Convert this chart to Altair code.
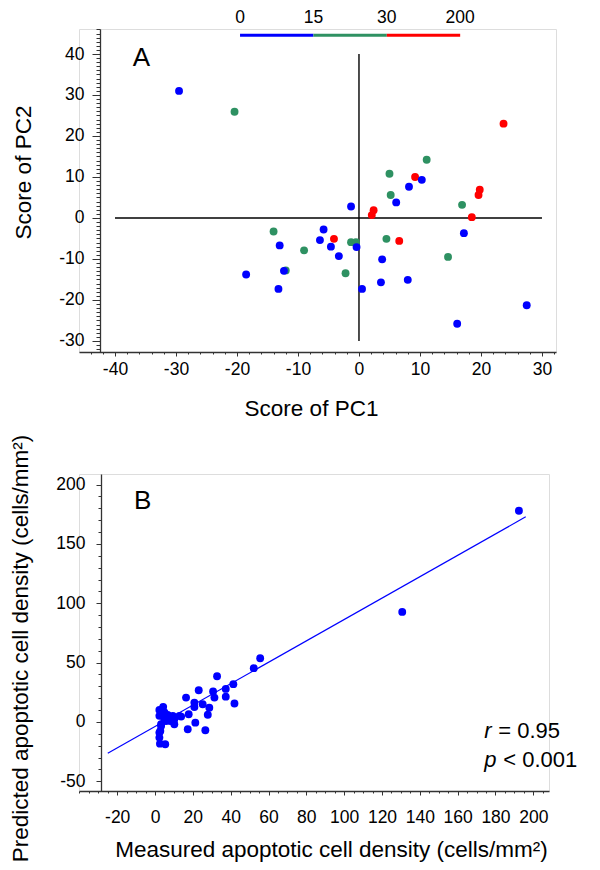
import altair as alt
import pandas as pd

FONT = "Liberation Sans"

# ---------------- Panel A data ----------------
pc1 = [-29.5, -20.4, 23.7, 11.1, 5.0, 9.2, 10.3, 8.2, 19.8, 19.6, 5.2, 6.1, 16.9,
       -1.3, 2.4, 2.1, 18.5, -14.0, -5.8, 17.2, -4.1, -6.4, -1.3, -0.5, 4.5, 6.6,
       -13.0, -4.6, -0.4, -9.0, -3.3, 14.6, 3.8, -12.0, -12.3, -2.2, -18.5, 8.0,
       3.6, -13.2, 0.5, 27.5, 16.1]
pc2 = [31.0, 25.9, 23.0, 14.2, 10.8, 10.0, 9.3, 7.6, 6.9, 5.6, 5.6, 3.8, 3.2,
       2.8, 1.9, 0.7, 0.2, -3.3, -2.8, -3.7, -5.1, -5.4, -5.9, -5.9, -5.1, -5.6,
       -6.7, -7.0, -7.1, -7.9, -9.3, -9.5, -10.1, -12.8, -12.9, -13.5, -13.8, -15.1,
       -15.7, -17.3, -17.3, -21.3, -25.8]
grp = ["0-15", "15-30", "30-200", "15-30", "15-30", "30-200", "0-15", "0-15",
       "30-200", "30-200", "15-30", "0-15", "15-30", "0-15", "30-200", "30-200",
       "30-200", "15-30", "0-15", "0-15", "30-200", "0-15", "15-30", "15-30",
       "15-30", "30-200", "0-15", "0-15", "0-15", "15-30", "0-15", "15-30", "0-15",
       "15-30", "0-15", "15-30", "0-15", "0-15", "0-15", "0-15", "0-15", "0-15",
       "0-15"]
group_names = ["0-15", "15-30", "30-200"]
group_colors = ["#0000FF", "#2E9162", "#FF0000"]
legend_labels = ["0", "15", "30", "200"]

# ---------------- Panel B data ----------------
measured = [192.4, 130.7, 55.6, 52.2, 32.8, 41.4, 23.1, 30.7, 37.4, 16.4, 31.4, 37.4,
            42.0, 20.8, 25.2, 28.7, 20.8, 27.9, 17.8, 13.8, 21.3, 17.3, 26.6, 4.3,
            2.3, 2.3, 6.7, 9.4, 10.2, 5.8, 3.2, 2.3, 2.3, 2.6, 5.4, 8.1, 4.9, 10.2,
            12.9, 3.2, 2.8, 5.0, 7.5]
predicted = [177.9, 92.7, 53.7, 45.3, 38.5, 31.8, 26.7, 25.6, 27.8, 20.5, 20.5, 21.3,
             15.5, 16.3, 14.9, 12.0, 12.6, 6.0, 6.5, 4.5, -0.6, -6.2, -7.0, 12.7,
             10.0, 5.1, 5.9, 5.1, -2.0, 0.8, -2.0, -9.0, -13.2, -18.3, -18.8, 0.8,
             2.3, 2.3, 5.1, -3.4, -7.6, 8.0, 3.0]
fit_x = [-25, 196]
fit_y = [-26.4, 172.8]
r_value = "= 0.95"
p_value = "< 0.001"

# ---------------- layout constants ----------------
AX = "#333333"
LEG_X0, LEG_STEP, LEG_Y, LEG_LABEL_Y = -19.5, 12.03, 44.6, 48.8

color_scale = alt.Scale(domain=group_names, range=group_colors)

df_a = pd.DataFrame({"pc1": pc1, "pc2": pc2, "grp": grp})
df_b = pd.DataFrame({"measured": measured, "predicted": predicted})

lab = "'' + datum.value"

# ======== Panel A ========
xs_a = alt.Scale(domain=[-45.9, 32.3], nice=False, zero=False)
ys_a = alt.Scale(domain=[-32.7, 46.1], nice=False, zero=False)

pts_a = alt.Chart(df_a).mark_circle(size=62, opacity=1).encode(
    x=alt.X("pc1:Q", scale=xs_a, axis=alt.Axis(
        values=list(range(-40, 31, 10)), tickSize=4, labelPadding=4, grid=False,
        domainColor=AX, tickColor=AX, domainWidth=1.3, labelExpr=lab,
        labelFontSize=17.5, titleFontSize=22.5, title="Score of PC1",
        titleX=232, titleY=56, titleBaseline="middle", titleAlign="center",
        titleFontWeight="normal", orient="bottom")),
    y=alt.Y("pc2:Q", scale=ys_a, axis=alt.Axis(
        values=list(range(-30, 41, 10)), offset=-21, tickSize=8, labelPadding=8,
        grid=False, domainColor=AX, tickColor=AX, domainWidth=1.3, labelExpr=lab,
        labelFontSize=17.5, titleFontSize=22.5, title="Score of PC2",
        titleX=-77, titleY=143, titleBaseline="middle", titleAlign="center",
        titleFontWeight="normal", orient="left")),
    color=alt.Color("grp:N", scale=color_scale, legend=None),
)

minor_a = alt.Chart(df_a).mark_circle(opacity=0).encode(
    x=alt.X("pc1:Q", scale=xs_a, axis=alt.Axis(
        values=list(range(-44, 33, 2)), tickSize=2, labels=False, domain=False,
        grid=False, tickColor=AX, title=None, orient="bottom")),
    y=alt.Y("pc2:Q", scale=ys_a, axis=alt.Axis(
        values=list(range(-32, 47, 1)), offset=-21, tickSize=4, labels=False,
        domain=False, grid=False, tickColor=AX, title=None, orient="left")),
)

ref_h = alt.Chart(pd.DataFrame({"x": [-40], "x2": [30], "y": [0]})).mark_rule(
    color="black", strokeWidth=1.4).encode(
    x=alt.X("x:Q", scale=xs_a, axis=None), x2="x2:Q",
    y=alt.Y("y:Q", scale=ys_a, axis=None))
ref_v = alt.Chart(pd.DataFrame({"x": [0], "y": [-30], "y2": [40]})).mark_rule(
    color="black", strokeWidth=1.4).encode(
    x=alt.X("x:Q", scale=xs_a, axis=None),
    y=alt.Y("y:Q", scale=ys_a, axis=None), y2="y2:Q")

df_seg = pd.DataFrame({
    "grp": group_names,
    "x": [LEG_X0 + i * LEG_STEP for i in range(3)],
    "x2": [LEG_X0 + (i + 1) * LEG_STEP for i in range(3)],
    "y": [LEG_Y] * 3,
})
leg_bar = alt.Chart(df_seg).mark_rule(strokeWidth=3).encode(
    x=alt.X("x:Q", scale=xs_a, axis=None), x2="x2:Q",
    y=alt.Y("y:Q", scale=ys_a, axis=None),
    color=alt.Color("grp:N", scale=color_scale, legend=None))
df_leglab = pd.DataFrame({
    "t": legend_labels,
    "x": [LEG_X0 + i * LEG_STEP for i in range(4)],
    "y": [LEG_LABEL_Y] * 4,
})
leg_lab = alt.Chart(df_leglab).mark_text(
    font=FONT, fontSize=17.5, baseline="middle", align="center", color="black").encode(
    x=alt.X("x:Q", scale=xs_a, axis=None), y=alt.Y("y:Q", scale=ys_a, axis=None), text="t:N")

lab_a = alt.Chart(pd.DataFrame({"x": [-37.1], "y": [37.1], "t": ["A"]})).mark_text(
    font=FONT, fontSize=26, baseline="alphabetic", align="left", color="black").encode(
    x=alt.X("x:Q", scale=xs_a, axis=None), y=alt.Y("y:Q", scale=ys_a, axis=None), text="t:N")

panel_a = alt.layer(minor_a, ref_h, ref_v, pts_a, leg_bar, leg_lab, lab_a).resolve_axis(
    x="independent", y="independent").properties(width=477, height=323)

# ======== Panel B ========
xs_b = alt.Scale(domain=[-40.2, 208.3], nice=False, zero=False)
ys_b = alt.Scale(domain=[-58.2, 208.9], nice=False, zero=False)

pts_b = alt.Chart(df_b).mark_circle(size=62, opacity=1, color="#0000FF").encode(
    x=alt.X("measured:Q", scale=xs_b, axis=alt.Axis(
        values=list(range(-20, 201, 20)), tickSize=4, labelPadding=13, grid=False,
        domainColor=AX, tickColor=AX, domainWidth=1.3, labelExpr=lab,
        labelFontSize=17.5, titleFontSize=22.5,
        title="Measured  apoptotic cell density (cells/mm²)",
        titleX=252, titleY=58, titleBaseline="middle", titleAlign="center",
        titleFontWeight="normal", orient="bottom")),
    y=alt.Y("predicted:Q", scale=ys_b, axis=alt.Axis(
        values=list(range(-50, 201, 50)), offset=-22, tickSize=5, labelPadding=11,
        grid=False, domainColor=AX, tickColor=AX, domainWidth=1.3, labelExpr=lab,
        labelFontSize=17.5, titleFontSize=22.5,
        title="Predicted apoptotic cell density (cells/mm²)",
        titleX=-81, titleY=174, titleBaseline="middle", titleAlign="center",
        titleFontWeight="normal", orient="left")),
)

minor_b = alt.Chart(df_b).mark_circle(opacity=0).encode(
    x=alt.X("measured:Q", scale=xs_b, axis=alt.Axis(
        values=list(range(-40, 206, 5)), tickSize=2, labels=False, domain=False,
        grid=False, tickColor=AX, title=None, orient="bottom")),
    y=alt.Y("predicted:Q", scale=ys_b, axis=alt.Axis(
        values=list(range(-50, 201, 10)), offset=-22, tickSize=3, labels=False,
        domain=False, grid=False, tickColor=AX, title=None, orient="left")),
)

fit = alt.Chart(pd.DataFrame({"x": fit_x, "y": fit_y})).mark_line(
    color="#0000FF", strokeWidth=1.2).encode(
    x=alt.X("x:Q", scale=xs_b, axis=None), y=alt.Y("y:Q", scale=ys_b, axis=None))

lab_b = alt.Chart(pd.DataFrame({"x": [-11.1], "y": [179.6], "t": ["B"]})).mark_text(
    font=FONT, fontSize=26, baseline="alphabetic", align="left", color="black").encode(
    x=alt.X("x:Q", scale=xs_b, axis=None), y=alt.Y("y:Q", scale=ys_b, axis=None), text="t:N")

stat_sym = alt.Chart(pd.DataFrame({"x": [174.1, 174.1], "y": [-13.2, -37.9],
                                   "t": ["r", "p"]})).mark_text(
    font=FONT, fontSize=22, fontStyle="italic", baseline="alphabetic", align="left",
    color="black").encode(
    x=alt.X("x:Q", scale=xs_b, axis=None), y=alt.Y("y:Q", scale=ys_b, axis=None), text="t:N")
stat_r = alt.Chart(pd.DataFrame({"x": [174.1], "y": [-13.2], "t": [r_value]})).mark_text(
    font=FONT, fontSize=22, baseline="alphabetic", align="left", color="black", dx=14).encode(
    x=alt.X("x:Q", scale=xs_b, axis=None), y=alt.Y("y:Q", scale=ys_b, axis=None), text="t:N")
stat_p = alt.Chart(pd.DataFrame({"x": [174.1], "y": [-37.9], "t": [p_value]})).mark_text(
    font=FONT, fontSize=22, baseline="alphabetic", align="left", color="black", dx=19).encode(
    x=alt.X("x:Q", scale=xs_b, axis=None), y=alt.Y("y:Q", scale=ys_b, axis=None), text="t:N")

panel_b = alt.layer(minor_b, fit, pts_b, lab_b, stat_sym, stat_r, stat_p).resolve_axis(
    x="independent", y="independent").properties(width=470, height=317)

chart = alt.vconcat(panel_a, panel_b, spacing=13, padding=0).configure_view(
    stroke=None).configure_axis(
    labelFont=FONT, titleFont=FONT, labelColor="black", titleColor="black"
).configure(background="white")

chart.save("out.html", embed_options={"renderer": "svg", "actions": False})
